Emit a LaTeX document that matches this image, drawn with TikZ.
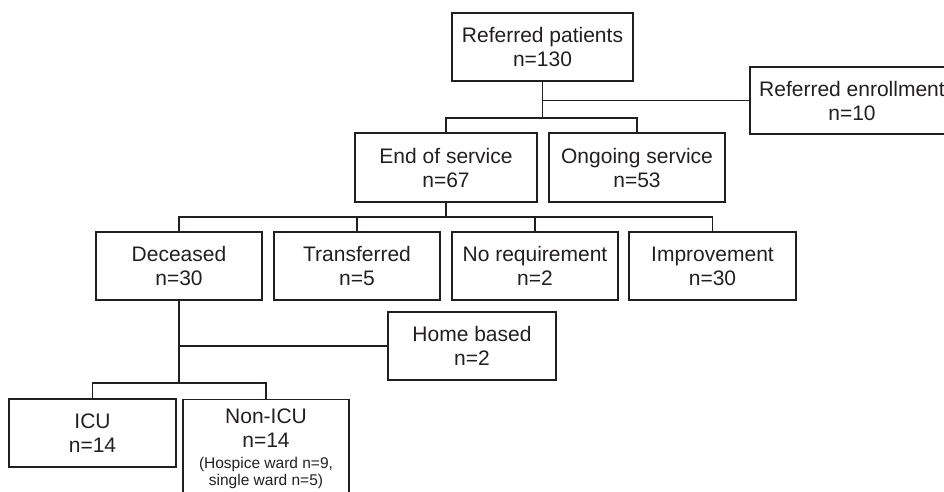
\documentclass[tikz,border=0pt]{standalone}
\usepackage{fontspec}
\setmainfont{Liberation Sans}
\usepackage{tikz}
\definecolor{inkGray}{RGB}{35,31,32}
\tikzstyle{flowBox}=[shape = rectangle, draw = inkGray, line width = 1.2pt, text = inkGray, align = center, inner sep = 0pt, minimum height = 68pt, font = \fontsize{21}{24}\selectfont]
\tikzstyle{flowLine}=[draw = inkGray, line width = 1.2pt]

\begin{document}
\begin{tikzpicture}[x = 1pt, y = -1pt]
\clip (0,0) rectangle (944,492);
\tikzstyle{wideBox}=[flowBox, minimum width = 182pt]
\tikzstyle{narrowBox}=[flowBox, minimum width = 166pt]
\node[wideBox, minimum width = 181pt] (patients) at (542.5,47) {Referred patients\\n=130};
\node[flowBox, minimum width = 204pt, minimum height = 67pt] (enroll) at (852,100.5) {Referred enrollment\\n=10};
\node[wideBox, minimum height = 69pt] (endserv) at (446,167.5) {End of service\\n=67};
\node[wideBox, minimum width = 176pt, minimum height = 69pt] (ongoing) at (637,167.5) {Ongoing service\\n=53};
\node[narrowBox] (deceased) at (179,266) {Deceased\\n=30};
\node[narrowBox] (transfer) at (357,266) {Transferred\\n=5};
\node[narrowBox] (noreq) at (535,266) {No requirement\\n=2};
\node[narrowBox, minimum width = 167pt] (improve) at (712.5,266) {Improvement\\n=30};
\node[narrowBox, minimum width = 168pt] (home) at (472,346) {Home based\\n=2};
\node[narrowBox, minimum width = 167pt] (icu) at (92.5,433) {ICU\\n=14};
\node[narrowBox, anchor = north, minimum height = 0pt, inner ysep = 9pt] (nonicu) at (266,399) {Non-ICU\\n=14\\[-3pt]
{\fontsize{15.5}{16}\selectfont (Hospice ward n=9,}\\[-7pt]
{\fontsize{15.5}{16}\selectfont single ward n=5)}\\[12pt]};
\coordinate (topSplit) at (542.5,118);
\coordinate (midSplit) at (446,217);
\coordinate (lowSplit) at (179,383);
\draw[flowLine] (patients) -- (topSplit);
\draw[flowLine] (patients.south |- enroll.west) -- (enroll.west);
\draw[flowLine] (endserv.north) |- (topSplit) -| (ongoing.north);
\draw[flowLine] (endserv) -- (midSplit);
\draw[flowLine] (deceased.north) |- (midSplit) -| (improve.north);
\draw[flowLine] (transfer.north) -- (transfer.north |- midSplit);
\draw[flowLine] (noreq.north) -- (noreq.north |- midSplit);
\draw[flowLine] (deceased) -- (lowSplit);
\draw[flowLine] (deceased.south |- home.west) -- (home.west);
\draw[flowLine] (icu.north) |- (lowSplit) -| (nonicu.north);
\end{tikzpicture}
\end{document}
